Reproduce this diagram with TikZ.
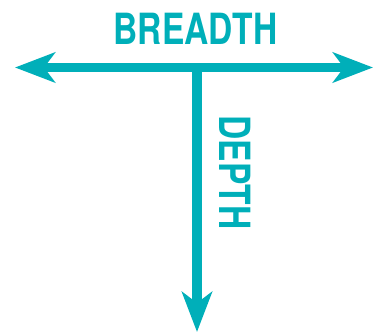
\documentclass[tikz,border=0pt]{standalone}
\usepackage{fontspec}
\newfontfamily\labelfont{TeX Gyre Heros}[FakeStretch=0.78]
\usepackage{xcolor}
\usepackage{tikz}
\usetikzlibrary{arrows.meta,positioning}
\definecolor{tealc}{RGB}{0,175,185}

\begin{document}
\begin{tikzpicture}[x=1pt,y=-1pt,
    axisline/.style={line width=9.5pt,tealc,
      -{Stealth[length=40pt,width=30pt,inset=11pt]}},
    axislabel/.style={tealc,inner sep=0pt,
      font=\labelfont\bfseries\fontsize{43}{43}\selectfont}]
  \useasboundingbox (0,0) rectangle (374,334);

  \coordinate (left) at (15,67.5);
  \coordinate (right) at (373,67.5);
  \coordinate (mid) at (197,67.5);
  \coordinate (bottom) at (197,332);

  \draw[axisline,{Stealth[length=40pt,width=30pt,inset=11pt]}-{Stealth[length=40pt,width=30pt,inset=11pt]}]
    (left) -- (right);
  \draw[axisline] (mid) -- (bottom);

  \node[axislabel] (breadth) at (195.5,28.5) {BREADTH};
  \node[axislabel,rotate=-90] (depth) at (235,172.5) {DEPTH};
\end{tikzpicture}
\end{document}
